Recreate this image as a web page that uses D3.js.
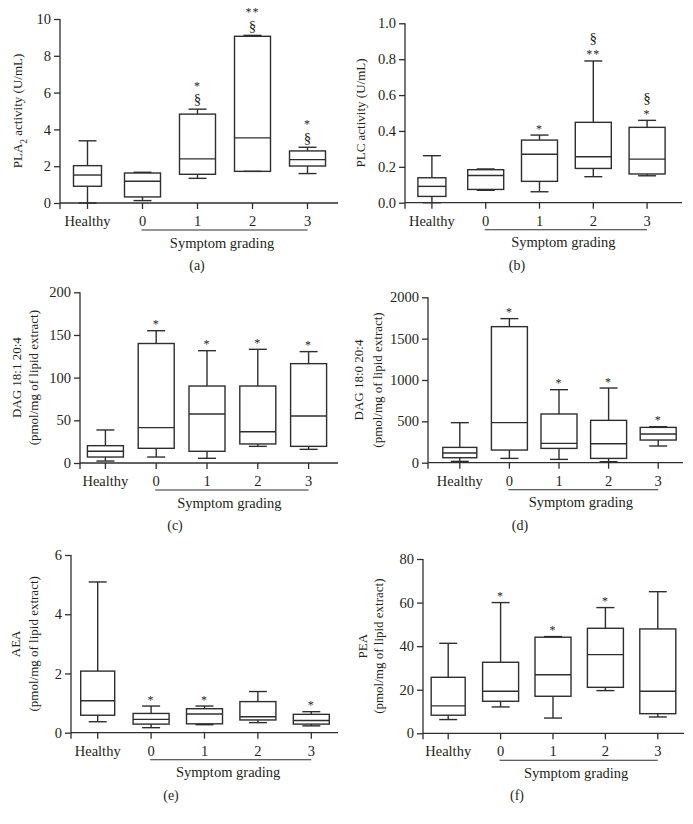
<!DOCTYPE html>
<html>
<head>
<meta charset="utf-8">
<script src="https://cdn.jsdelivr.net/npm/d3@7"></script>
<style>
  body { margin: 0; background: #fff; }
  svg { display: block; }
  text { font-family: 'Liberation Serif', 'Times New Roman', serif; fill: #231f20; }
</style>
</head>
<body>
<svg width="693" height="824"></svg>
<script>
const groups = ['Healthy', '0', '1', '2', '3']

// box summaries per group: [min, q1, median, q3, max]
const pla2 = [
  [0.0, 0.91, 1.52, 2.03, 3.38],
  [0.13, 0.33, 1.18, 1.63, 1.67],
  [1.34, 1.56, 2.4, 4.83, 5.1],
  [1.72, 1.72, 3.54, 9.06, 9.11],
  [1.6, 2.01, 2.36, 2.83, 3.03],
]
const plc = [
  [0.0, 0.035, 0.091, 0.139, 0.262],
  [0.069, 0.074, 0.152, 0.184, 0.188],
  [0.061, 0.119, 0.27, 0.349, 0.377],
  [0.145, 0.191, 0.256, 0.448, 0.79],
  [0.15, 0.16, 0.243, 0.42, 0.459],
]
const dag181 = [
  [2.3, 7.0, 13.7, 20.3, 38.7],
  [7.0, 17.2, 41.4, 140, 155],
  [5.5, 13.7, 57.4, 90.2, 131.6],
  [19.5, 22.3, 36.7, 90.2, 133.2],
  [16, 19.5, 55, 116.4, 130.5],
]
const dag180 = [
  [16, 60, 117, 185, 484],
  [52, 153, 484, 1645, 1742],
  [40, 173, 234, 589, 883],
  [12, 52, 230, 512, 903],
  [202, 274, 347, 427, 435],
]
const aea = [
  [0.37, 0.59, 1.08, 2.08, 5.09],
  [0.17, 0.29, 0.45, 0.65, 0.9],
  [0.27, 0.3, 0.63, 0.81, 0.9],
  [0.34, 0.43, 0.54, 1.05, 1.39],
  [0.23, 0.29, 0.41, 0.62, 0.71],
]
const pea = [
  [6.3, 8.3, 12.6, 25.7, 41.3],
  [12.1, 14.7, 19.3, 32.6, 60],
  [7.0, 17, 26.9, 44.1, 44.4],
  [19.6, 21.1, 36.1, 48.2, 57.7],
  [7.5, 9.0, 19.3, 47.9, 65],
]

// significance marks per group, listed from the whisker upward
const pla2Marks = [[], [], ['§', '*'], ['§', '**'], ['§', '*']]
const plcMarks = [[], [], ['*'], ['**', '§'], ['*', '§']]
const dag181Marks = [[], ['*'], ['*'], ['*'], ['*']]
const dag180Marks = [[], ['*'], ['*'], ['*'], ['*']]
const aeaMarks = [[], ['*'], ['*'], [], ['*']]
const peaMarks = [[], ['*'], ['*'], ['*'], []]

const pla2Ticks = [0, 2, 4, 6, 8, 10]
const plcTicks = [0, 0.2, 0.4, 0.6, 0.8, 1.0]
const dag181Ticks = [0, 50, 100, 150, 200]
const dag180Ticks = [0, 500, 1000, 1500, 2000]
const aeaTicks = [0, 2, 4, 6]
const peaTicks = [0, 20, 40, 60, 80]

const ink = '#2e2e2e'
const svg = d3.select('svg')

const panels = [
  { letter: '(a)', data: pla2, marks: pla2Marks, ticks: pla2Ticks, fmt: d3.format('d'),
    label: [['PLA', '2', ' activity (U/mL)']], labelX: [17],
    axisX: 60, band: [60, 335], axisEnd: 338, yTop: 19, yZero: 203, letterX: 197, firstW: 28 },
  { letter: '(b)', data: plc, marks: plcMarks, ticks: plcTicks, fmt: d3.format('.1f'),
    label: [['PLC activity (U/mL)']], labelX: [360],
    axisX: 405, band: [405, 674], axisEnd: 682, yTop: 23.3, yZero: 202.7, letterX: 517, firstW: 28 },
  { letter: '(c)', data: dag181, marks: dag181Marks, ticks: dag181Ticks, fmt: d3.format('d'),
    label: [['DAG 18:1 20:4'], ['(pmol/mg of lipid extract)']], labelX: [16, 33],
    axisX: 80, band: [80, 334], axisEnd: 338, yTop: 292.3, yZero: 463, letterX: 175, firstW: 36 },
  { letter: '(d)', data: dag180, marks: dag180Marks, ticks: dag180Ticks, fmt: d3.format('d'),
    label: [['DAG 18:0 20:4'], ['(pmol/mg of lipid extract)']], labelX: [358, 377],
    axisX: 428, band: [435, 683], axisEnd: 683, yTop: 297.3, yZero: 462.7, letterX: 520, firstW: 34 },
  { letter: '(e)', data: aea, marks: aeaMarks, ticks: aeaTicks, fmt: d3.format('d'),
    label: [['AEA'], ['(pmol/mg of lipid extract)']], labelX: [15, 33],
    axisX: 71, band: [71, 338], axisEnd: 338, yTop: 555, yZero: 732.7, letterX: 171, firstW: 34 },
  { letter: '(f)', data: pea, marks: peaMarks, ticks: peaTicks, fmt: d3.format('d'),
    label: [['PEA'], ['(pmol/mg of lipid extract)']], labelX: [362, 378],
    axisX: 423, band: [422, 684], axisEnd: 684, yTop: 559, yZero: 733.3, letterX: 517, firstW: 34 },
]

function drawPanel(p) {
  const g = svg.append('g')
  const x = d3.scaleBand().domain(groups).range(p.band)
  const y = d3.scaleLinear().domain([0, d3.max(p.ticks)]).range([p.yZero, p.yTop])
  const boxW = 36
  const capW = 18
  const fs = '14.5px'

  // y axis
  const yAxis = d3.axisLeft(y).tickValues(p.ticks).tickFormat(p.fmt).tickSize(6).tickPadding(3)
  const ya = g.append('g').attr('transform', `translate(${p.axisX},0)`).call(yAxis)
  ya.select('.domain').remove()
  ya.selectAll('line').attr('stroke', ink).attr('stroke-width', 1.3)
  ya.selectAll('text').style('font-size', fs).attr('fill', '#231f20')
    .style('font-family', "'Liberation Serif', serif")
  g.append('line')
    .attr('x1', p.axisX).attr('x2', p.axisX)
    .attr('y1', p.yTop).attr('y2', p.yZero + 6)
    .attr('stroke', ink).attr('stroke-width', 1.3)

  // x axis
  g.append('line')
    .attr('x1', p.axisX).attr('x2', p.axisEnd)
    .attr('y1', p.yZero).attr('y2', p.yZero)
    .attr('stroke', ink).attr('stroke-width', 1.3)
  const cx = (d) => x(d) + x.bandwidth() / 2
  g.selectAll('line.xt').data(groups).enter().append('line')
    .attr('x1', cx).attr('x2', cx)
    .attr('y1', p.yZero).attr('y2', p.yZero + 6)
    .attr('stroke', ink).attr('stroke-width', 1.3)
  g.selectAll('text.xl').data(groups).enter().append('text')
    .attr('x', cx).attr('y', p.yZero + 23)
    .attr('text-anchor', 'middle')
    .style('font-size', fs)
    .text((d) => d)

  // symptom grading bracket
  g.append('line')
    .attr('x1', cx('0') - 1).attr('x2', cx('3'))
    .attr('y1', p.yZero + 27).attr('y2', p.yZero + 27)
    .attr('stroke', ink).attr('stroke-width', 1.1)
  g.append('text')
    .attr('x', (cx('0') + cx('3')) / 2 - 3).attr('y', p.yZero + 44.5)
    .attr('text-anchor', 'middle')
    .style('font-size', fs)
    .text('Symptom grading')
  g.append('text')
    .attr('x', p.letterX).attr('y', p.yZero + 67)
    .attr('text-anchor', 'middle')
    .style('font-size', '14px')
    .text(p.letter)

  // y label
  const midY = (p.yTop + p.yZero) / 2
  p.label.forEach((parts, i) => {
    const t = g.append('text')
      .attr('transform', `translate(${p.labelX[i]},${midY}) rotate(-90)`)
      .attr('text-anchor', 'middle')
      .attr('dy', '0.35em')
      .style('font-size', '13px')
    t.append('tspan').text(parts[0])
    if (parts.length > 1) {
      t.append('tspan').attr('baseline-shift', 'sub').style('font-size', '9.5px').text(parts[1])
      t.append('tspan').text(parts[2])
    }
  })

  // boxes
  p.data.forEach((s, i) => {
    const c = cx(groups[i])
    const w = i === 0 ? p.firstW : boxW
    const [lo, q1, med, q3, hi] = s
    const stroke = (sel) => sel.attr('stroke', ink).attr('stroke-width', 1.4).attr('fill', 'none')
    g.append('line').attr('x1', c).attr('x2', c).attr('y1', y(q3)).attr('y2', y(hi)).call(stroke)
    g.append('line').attr('x1', c).attr('x2', c).attr('y1', y(q1)).attr('y2', y(lo)).call(stroke)
    g.append('line').attr('x1', c - capW / 2).attr('x2', c + capW / 2).attr('y1', y(hi)).attr('y2', y(hi)).call(stroke)
    g.append('line').attr('x1', c - capW / 2).attr('x2', c + capW / 2).attr('y1', y(lo)).attr('y2', y(lo)).call(stroke)
    g.append('rect').attr('x', c - w / 2).attr('width', w)
      .attr('y', y(q3)).attr('height', y(q1) - y(q3)).call(stroke)
    g.append('line').attr('x1', c - w / 2).attr('x2', c + w / 2).attr('y1', y(med)).attr('y2', y(med)).call(stroke)

    // stacked marks: a star sitting on a section sign needs a bit more room
    let center = y(hi) - 9
    p.marks[i].forEach((m, k) => {
      const star = m.includes('*')
      if (k > 0) center -= star ? 17 : 13
      g.append('text')
        .attr('x', c).attr('y', center + (star ? 6.5 : 4.3))
        .attr('text-anchor', 'middle')
        .attr('fill', star ? '#444' : '#231f20')
        .style('font-size', star ? '12px' : '15px')
        .style('letter-spacing', star ? '1px' : '0')
        .text(m)
    })
  })
}

panels.forEach(drawPanel)
</script>
</body>
</html>
